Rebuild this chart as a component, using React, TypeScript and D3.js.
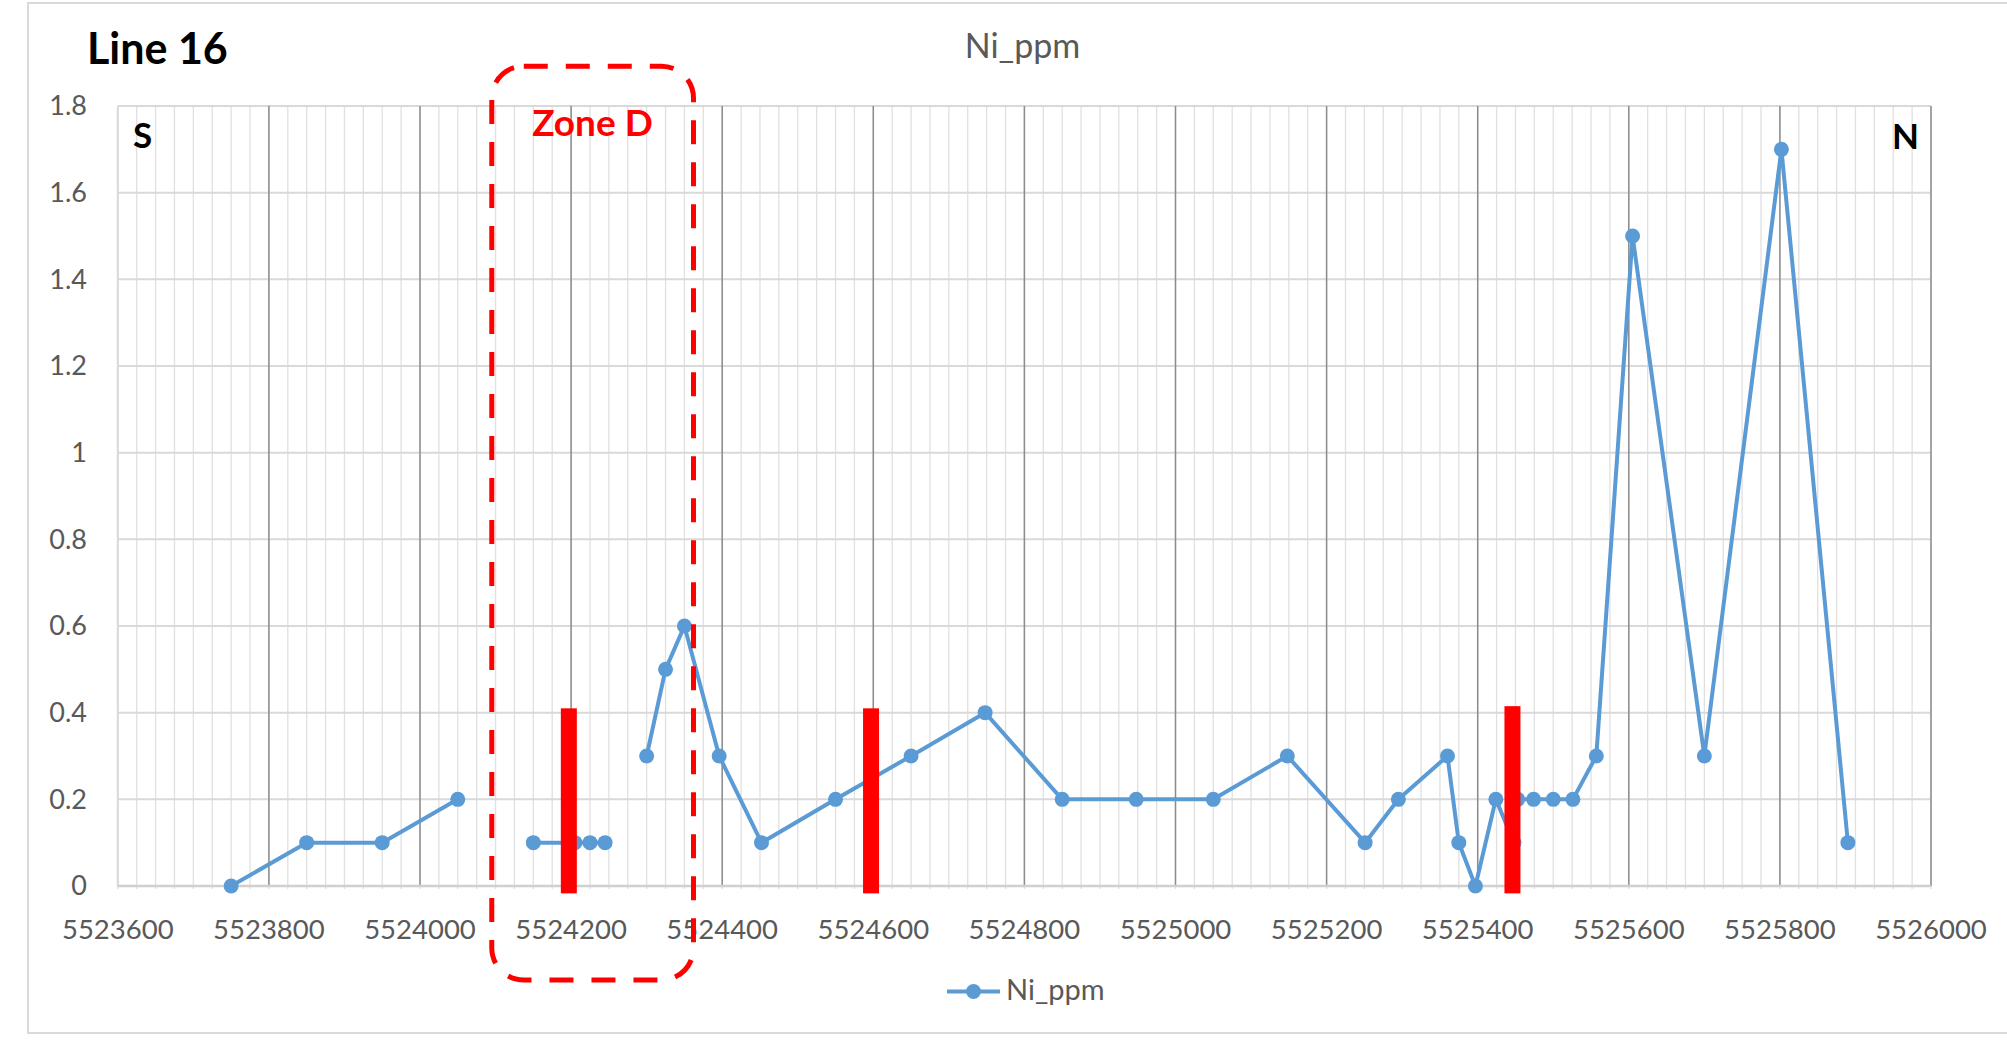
import React from "react";
import * as d3 from "d3";

// ---- data ----
const northing: number[] = [
  5523750, 5523850, 5523950, 5524050, 5524100,
  5524150, 5524205, 5524225, 5524245, 5524275,
  5524300, 5524325, 5524350, 5524396, 5524452, 5524550, 5524650, 5524748,
  5524850, 5524948, 5525050, 5525148, 5525251, 5525295, 5525360, 5525375,
  5525397, 5525424, 5525448, 5525453, 5525474, 5525500, 5525526, 5525557,
  5525605, 5525700, 5525802, 5525890,
];
const niPpm: (number | null)[] = [
  0, 0.1, 0.1, 0.2, null,
  0.1, 0.1, 0.1, 0.1, null,
  0.3, 0.5, 0.6, 0.3, 0.1, 0.2, 0.3, 0.4,
  0.2, 0.2, 0.2, 0.3, 0.1, 0.2, 0.3, 0.1,
  0, 0.2, 0.1, 0.2, 0.2, 0.2, 0.2, 0.3,
  1.5, 0.3, 1.7, 0.1,
];
const xTicks: number[] = [5523600, 5523800, 5524000, 5524200, 5524400, 5524600, 5524800, 5525000, 5525200, 5525400, 5525600, 5525800, 5526000];
const yTicks: number[] = [0, 0.2, 0.4, 0.6, 0.8, 1, 1.2, 1.4, 1.6, 1.8];
const markerNorthing: number[] = [5524197, 5524597, 5525446];
const markerTop: number[] = [0.41, 0.41, 0.415];
const markerBottom = -0.017;
const zoneD = { x0: 5524095, x1: 5524362, y0: 1.892, y1: -0.217 };

const W = 2007, H = 1044;
const plot = { left: 117.8, right: 1931, top: 106, bottom: 886 };

export default function App() {
  const x = d3.scaleLinear().domain([5523600, 5526000]).range([plot.left, plot.right]);
  const y = d3.scaleLinear().domain([0, 1.8]).range([plot.bottom, plot.top]);
  const minor = d3.range(5523600, 5526001, 25);
  const pts = northing.map((n, i) => ({ n, v: niPpm[i] }));
  const line = d3
    .line<{ n: number; v: number | null }>()
    .defined((d) => d.v != null)
    .x((d) => x(d.n))
    .y((d) => y(d.v as number));
  const font = "Lato, 'Open Sans', sans-serif";
  const grey = "#595959";
  const blue = "#5b9bd5";
  return (
    <svg width={W} height={H} style={{ position: "absolute", left: 0, top: 0, background: "#fff" }}>
      <rect x={28} y={3} width={W + 10} height={1030} fill="#fff" stroke="#d9d9d9" strokeWidth={2} />
      {/* minor vertical gridlines */}
      {minor.map((m) => (
        <line key={"m" + m} x1={x(m)} x2={x(m)} y1={plot.top} y2={plot.bottom + 3} stroke="#e0e0e0" strokeWidth={1.3} />
      ))}
      {/* horizontal gridlines */}
      {yTicks.map((t) => (
        <line key={"h" + t} x1={plot.left} x2={plot.right} y1={y(t)} y2={y(t)} stroke="#d9d9d9" strokeWidth={2} />
      ))}
      {/* major vertical gridlines */}
      {xTicks.slice(1).map((t) => (
        <line key={"M" + t} x1={x(t)} x2={x(t)} y1={plot.top} y2={plot.bottom} stroke="#8c8c8c" strokeWidth={1.5} />
      ))}
      <line x1={plot.left} x2={plot.left} y1={plot.top} y2={plot.bottom} stroke="#d9d9d9" strokeWidth={2} />
      <line x1={plot.left} x2={plot.right} y1={plot.bottom} y2={plot.bottom} stroke="#d0d0d0" strokeWidth={2.5} />
      {/* y labels */}
      {yTicks.map((t) => (
        <text key={"yl" + t} x={87} y={y(t)} dy="0.35em" textAnchor="end" fontFamily={font} fontSize={27} fill={grey}>
          {String(t)}
        </text>
      ))}
      {/* x labels */}
      {xTicks.map((t) => (
        <text key={"xl" + t} x={x(t)} y={939} textAnchor="middle" fontFamily={font} fontSize={27.5} fill={grey}>
          {String(t)}
        </text>
      ))}
      {/* series */}
      <path d={line(pts) || ""} fill="none" stroke={blue} strokeWidth={4} strokeLinejoin="round" />
      {pts
        .filter((d) => d.v != null)
        .map((d, i) => (
          <circle key={"p" + i} cx={x(d.n)} cy={y(d.v as number)} r={7.5} fill={blue} />
        ))}
      {/* red markers */}
      {markerNorthing.map((n, i) => (
        <rect key={"r" + i} x={x(n) - 8} y={y(markerTop[i])} width={16} height={y(markerBottom) - y(markerTop[i])} fill="#ff0000" />
      ))}
      {/* Zone D box */}
      <rect
        x={x(zoneD.x0)}
        y={y(zoneD.y0)}
        width={x(zoneD.x1) - x(zoneD.x0)}
        height={y(zoneD.y1) - y(zoneD.y0)}
        rx={32}
        ry={32}
        fill="none"
        stroke="#ff0000"
        strokeWidth={5}
        strokeDasharray="24 18"
      />
      <text x={592.5} y={136} textAnchor="middle" fontFamily={font} fontWeight="bold" fontSize={37} fill="#ff0000">
        Zone D
      </text>
      {/* title & annotations */}
      <text x={1022.5} y={58} textAnchor="middle" fontFamily={font} fontSize={34} fill={grey}>
        Ni_ppm
      </text>
      <text x={87} y={64} fontFamily={font} fontWeight="bold" fontSize={43} fill="#000">
        Line 16
      </text>
      <text x={142.5} y={148} textAnchor="middle" fontFamily={font} fontWeight="bold" fontSize={35} fill="#000">
        S
      </text>
      <text x={1905.5} y={149} textAnchor="middle" fontFamily={font} fontWeight="bold" fontSize={35} fill="#000">
        N
      </text>
      {/* legend */}
      <line x1={947} x2={1000} y1={991.5} y2={991.5} stroke={blue} strokeWidth={4} />
      <circle cx={973.5} cy={991.5} r={7.5} fill={blue} />
      <text x={1006} y={1000} fontFamily={font} fontSize={29} fill={grey}>
        Ni_ppm
      </text>
    </svg>
  );
}
